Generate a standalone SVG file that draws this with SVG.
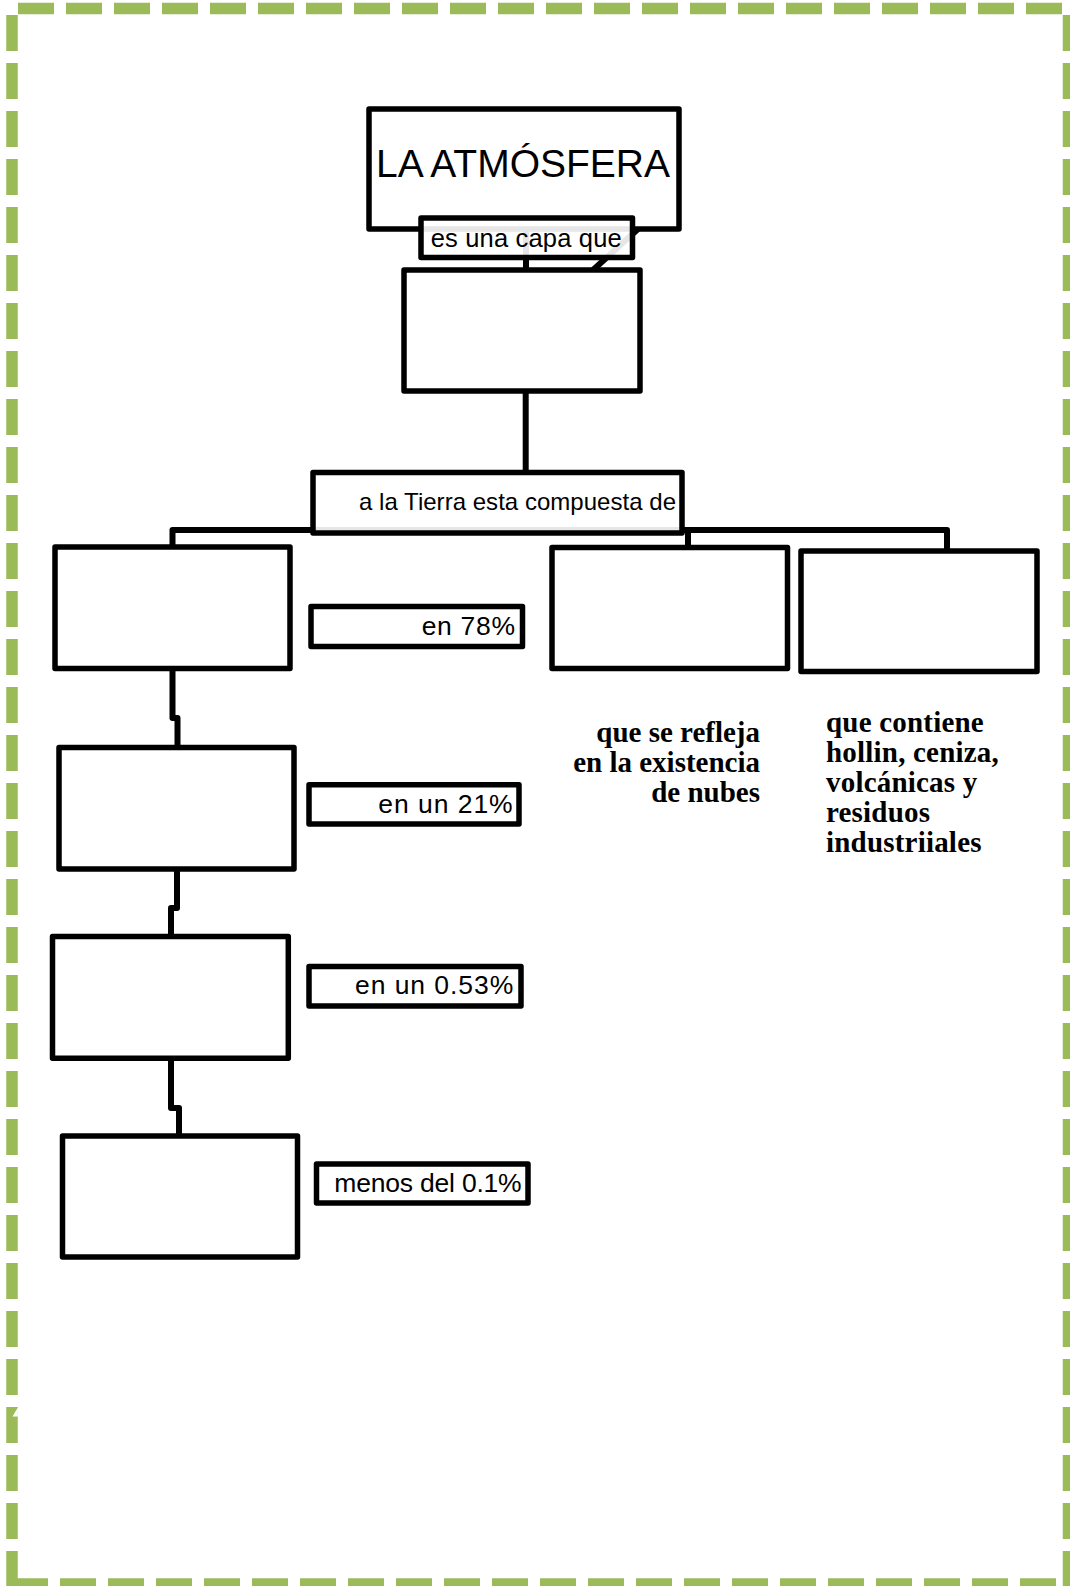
<svg xmlns="http://www.w3.org/2000/svg" width="1070" height="1586" viewBox="0 0 1070 1586">
<style>
.box{fill:#fff;stroke:#000;stroke-width:5.5;stroke-linejoin:round}
.tbox{fill:#fff;fill-opacity:0.9;stroke:#000;stroke-width:5.5;stroke-linejoin:round}
.con{fill:none;stroke:#000;stroke-width:6;stroke-linejoin:round}
.brd{fill:none;stroke:#9BBB59;stroke-width:11.5;stroke-dasharray:36 12}
.sans{font-family:"Liberation Sans",Arial,sans-serif;fill:#000}
.serif{font-family:"Liberation Serif","Times New Roman",serif;font-weight:bold;fill:#000}
</style>
<rect width="1070" height="1586" fill="#fff"/>
<g id="border">
<path class="brd" d="M18,8.5 H1070"/>
<path class="brd" d="M12,15 V1586"/>
<path class="brd" d="M1068.5,15 V1586"/>
<path class="brd" d="M12,1584 H1070"/>
<polygon points="17.8,1407.5 12.5,1416.5 17.8,1416.5" fill="#fff"/>
</g>
<g id="n1">
<rect class="box" x="369" y="109" width="310" height="120"/>
<text class="sans" x="523" y="177" font-size="39" text-anchor="middle">LA ATMÓSFERA</text>
</g>
<g id="connectors">
<path class="con" d="M526,229 V270"/>
<path class="con" d="M638,229 L593,270"/>
<path class="con" d="M525.7,391 V472.5"/>
<path class="con" d="M172.5,545 V530 H947 V551"/>
<path class="con" d="M688,530 V547.5"/>
<path class="con" d="M172.5,668.5 V718 H177.5 V747.5"/>
<path class="con" d="M177,869 V908 H171 V936.5"/>
<path class="con" d="M171,1058.3 V1108 H179 V1136"/>
</g>
<g id="n2">
<rect class="tbox" x="421" y="218" width="211.5" height="39.5"/>
<text class="sans" x="430.7" y="246.7" font-size="25.5" textLength="191">es una capa que</text>
</g>
<g id="n3">
<rect class="box" x="404" y="270" width="236" height="121"/>
</g>
<g id="n4">
<rect class="tbox" x="313" y="472.5" width="369" height="60.5"/>
<text class="sans" x="359" y="510" font-size="24" textLength="317">a la Tierra esta compuesta de</text>
</g>
<g id="n5">
<rect class="box" x="55" y="547" width="235" height="121.5"/>
</g>
<g id="l1">
<rect class="box" x="311" y="606.5" width="211.5" height="40"/>
<text class="sans" x="421.7" y="635" font-size="26.5" textLength="93.3">en 78%</text>
</g>
<g id="n6">
<rect class="box" x="552" y="547.5" width="235.5" height="121"/>
</g>
<g id="n7">
<rect class="box" x="801" y="551" width="236" height="120.5"/>
</g>
<g id="t1">
<text class="serif" font-size="29" text-anchor="end"><tspan x="760" y="741.7">que se refleja</tspan><tspan x="760" y="771.7">en la existencia</tspan><tspan x="760" y="801.7">de nubes</tspan></text>
</g>
<g id="t2">
<text class="serif" font-size="29" letter-spacing="0.2"><tspan x="826" y="732">que contiene</tspan><tspan x="826" y="762">hollin, ceniza,</tspan><tspan x="826" y="792">volcánicas y</tspan><tspan x="826" y="822">residuos</tspan><tspan x="826" y="852">industriiales</tspan></text>
</g>
<g id="n8">
<rect class="box" x="59" y="747.5" width="235" height="121.5"/>
</g>
<g id="l2">
<rect class="box" x="309" y="784.7" width="210" height="39.3"/>
<text class="sans" x="378.3" y="813.3" font-size="26.5" textLength="134.4">en un 21%</text>
</g>
<g id="n9">
<rect class="box" x="52.5" y="936.5" width="235.8" height="121.8"/>
</g>
<g id="l3">
<rect class="box" x="309" y="966.5" width="212" height="39.5"/>
<text class="sans" x="355" y="994.3" font-size="26.5" textLength="158.3">en un 0.53%</text>
</g>
<g id="n10">
<rect class="box" x="62.5" y="1136" width="235" height="121"/>
</g>
<g id="l4">
<rect class="box" x="316.5" y="1164" width="211.5" height="39"/>
<text class="sans" x="334.3" y="1191.7" font-size="26.5" textLength="187.4">menos del 0.1%</text>
</g>
</svg>
